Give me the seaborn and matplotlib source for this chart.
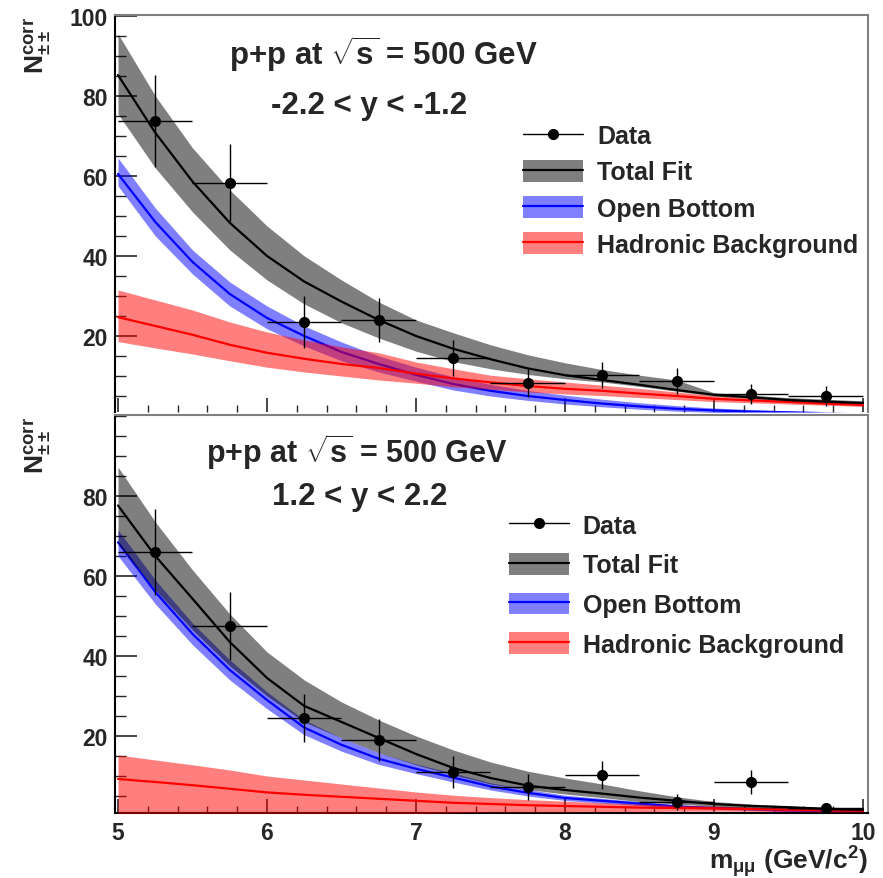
import matplotlib
matplotlib.use("Agg")
import matplotlib.pyplot as plt
import seaborn as sns
import numpy as np
from matplotlib.lines import Line2D
from matplotlib.patches import Patch
from matplotlib.ticker import MultipleLocator

# ---------------- data ----------------
xs = [5.0, 5.25, 5.5, 5.75, 6.0, 6.25, 6.5, 6.75, 7.0, 7.25, 7.5,
      7.75, 8.0, 8.25, 8.5, 8.75, 9.0, 9.25, 9.5, 9.75, 10.0]

# top panel (-2.2 < y < -1.2)
top_total = [85.2, 70.8, 58.6, 48.3, 40.0, 33.6, 28.6, 24.0, 20.0, 16.8, 14.2,
             11.9, 10.2, 9.0, 7.8, 6.5, 5.3, 4.7, 4.0, 3.6, 3.25]
top_total_hi = [95.5, 80.0, 67.0, 56.5, 47.5, 40.0, 34.0, 28.5, 24.0, 20.8, 17.8,
                15.3, 13.3, 11.6, 10.2, 9.0, 5.8, 5.2, 4.6, 4.2, 3.8]
top_total_lo = [75.5, 62.0, 51.0, 41.5, 34.0, 28.0, 23.3, 19.5, 16.2, 13.6, 11.8,
                10.4, 9.3, 8.5, 7.4, 6.2, 5.0, 4.4, 3.8, 3.4, 3.1]
top_blue = [60.5, 48.5, 38.5, 30.5, 24.5, 20.0, 16.0, 13.0, 10.3, 8.0, 6.3,
            5.0, 4.0, 3.1, 2.4, 1.8, 1.4, 1.1, 0.9, 0.7, 0.6]
top_blue_hi = [64.5, 52.0, 41.5, 33.5, 27.5, 22.5, 18.5, 15.0, 12.2, 9.8, 7.9,
               6.4, 5.2, 4.2, 3.3, 2.6, 2.0, 1.6, 1.3, 1.0, 0.8]
top_blue_lo = [57.5, 45.0, 35.5, 27.5, 21.8, 17.5, 13.8, 11.0, 8.7, 6.5, 5.0,
               3.9, 3.0, 2.3, 1.7, 1.2, 0.9, 0.7, 0.5, 0.4, 0.3]
top_red = [24.7, 22.5, 20.3, 17.8, 15.8, 14.3, 13.0, 12.0, 10.6, 9.4, 8.4,
           7.5, 6.8, 6.3, 5.6, 5.0, 4.3, 3.9, 3.5, 3.1, 2.75]
top_red_hi = [31.5, 29.0, 26.5, 23.5, 21.0, 19.0, 17.3, 15.8, 13.5, 11.8, 10.2,
              9.3, 8.5, 7.7, 6.9, 6.0, 5.1, 4.6, 4.1, 3.6, 3.2]
top_red_lo = [18.6, 17.0, 15.5, 13.8, 12.2, 11.0, 10.0, 9.0, 8.2, 7.3, 6.7,
              6.0, 5.5, 5.1, 4.6, 4.1, 3.6, 3.3, 3.0, 2.7, 2.4]

# bottom panel (1.2 < y < 2.2)
bot_total = [77.6, 65.0, 54.3, 43.5, 34.5, 27.5, 23.5, 19.5, 15.5, 12.0, 9.5,
             7.6, 6.5, 5.6, 4.6, 3.8, 3.0, 2.5, 2.2, 1.8, 1.6]
bot_total_hi = [87.2, 73.5, 61.5, 50.5, 41.0, 34.0, 28.5, 24.0, 20.0, 16.5, 13.5,
                11.2, 9.5, 8.0, 6.3, 4.8, 3.6, 3.0, 2.5, 2.1, 1.8]
bot_total_lo = [68.0, 56.5, 46.5, 37.5, 30.0, 23.5, 19.5, 15.8, 12.8, 10.3, 8.0,
                6.6, 5.5, 4.6, 3.6, 3.0, 2.4, 2.1, 1.8, 1.5, 1.3]
bot_blue = [68.4, 56.0, 45.5, 36.5, 29.0, 22.1, 17.8, 14.3, 11.8, 9.6, 7.4,
            5.8, 4.5, 3.8, 3.1, 2.4, 2.0, 1.7, 1.4, 1.2, 1.0]
bot_blue_hi = [71.5, 59.0, 48.2, 39.0, 31.0, 24.0, 19.5, 15.8, 13.0, 10.7, 8.3,
               6.6, 5.2, 4.4, 3.6, 2.8, 2.3, 2.0, 1.7, 1.4, 1.2]
bot_blue_lo = [65.0, 53.0, 42.8, 34.0, 26.8, 20.3, 16.2, 12.9, 10.6, 8.5, 6.5,
               5.0, 3.9, 3.2, 2.6, 2.0, 1.7, 1.4, 1.1, 1.0, 0.8]
bot_red = [9.25, 8.5, 7.7, 6.8, 5.9, 5.3, 4.8, 4.3, 3.8, 3.3, 3.0,
           2.7, 2.5, 2.3, 2.1, 2.0, 1.9, 1.75, 1.6, 1.45, 1.3]
bot_red_hi = [15.25, 14.0, 12.8, 11.5, 10.0, 9.0, 8.0, 7.0, 6.0, 5.2, 4.6,
              4.1, 3.7, 3.3, 3.0, 2.7, 2.5, 2.3, 2.1, 1.9, 1.8]
bot_red_lo = [0.3, 0.3, 0.3, 0.4, 0.4, 0.5, 0.5, 0.6, 0.6, 0.8, 1.0,
              1.0, 1.0, 1.1, 1.1, 1.2, 1.2, 1.2, 1.1, 1.0, 1.0]

# data points
mass = [5.25, 5.75, 6.25, 6.75, 7.25, 7.75, 8.25, 8.75, 9.25, 9.75]
mass_halfwidth = [0.25] * 10
top_y = [73.75, 58.25, 23.5, 24.0, 14.5, 8.25, 10.25, 8.75, 5.5, 5.0]
top_err = [11.5, 9.6, 6.5, 5.6, 4.5, 3.4, 3.2, 3.2, 2.6, 2.6]
bot_y = [66.0, 47.5, 24.5, 19.0, 11.0, 7.25, 10.25, 3.5, 8.5, 2.0]
bot_err = [10.7, 8.4, 6.0, 5.2, 4.1, 3.3, 3.4, 1.9, 3.0, 1.2]

title_main = "p+p at $\\sqrt{s}$ = 500 GeV"
top_range = "-2.2 < y < -1.2"
bot_range = "1.2 < y < 2.2"
legend_labels = ["Data", "Total Fit", "Open Bottom", "Hadronic Background"]

# ---------------- style ----------------
sns.set_theme(style="ticks")
plt.rcParams["font.family"] = ["Liberation Sans", "DejaVu Sans"]
plt.rcParams["font.weight"] = "bold"
plt.rcParams["mathtext.fontset"] = "custom"
plt.rcParams["mathtext.rm"] = "Liberation Sans:bold"
plt.rcParams["mathtext.bf"] = "Liberation Sans:bold"
plt.rcParams["mathtext.it"] = "Liberation Sans:bold:italic"
plt.rcParams["mathtext.sf"] = "Liberation Sans:bold"
plt.rcParams["mathtext.default"] = "rm"

W, H = 883, 879
fig = plt.figure(figsize=(W / 100, H / 100), dpi=100)
fig.patch.set_facecolor("white")
ax1 = fig.add_axes([115 / W, 1 - 413 / H, 753 / W, 397 / H])
ax2 = fig.add_axes([115 / W, 1 - 814 / H, 753 / W, 398 / H])

BLUE = "#0000ff"
RED = "#ff0000"
TICK_FS = 16.5


def draw_panel(ax, tot, tot_hi, tot_lo, blu, blu_hi, blu_lo, red, red_hi, red_lo, dy, derr):
    ax.set_facecolor("white")
    ax.fill_between(xs, blu_lo, blu_hi, color=BLUE, alpha=0.5, lw=0, zorder=1)
    sns.lineplot(x=xs, y=blu, ax=ax, color=BLUE, lw=1.6, legend=False, zorder=2)
    ax.fill_between(xs, red_lo, red_hi, color=RED, alpha=0.5, lw=0, zorder=3)
    sns.lineplot(x=xs, y=red, ax=ax, color=RED, lw=1.6, legend=False, zorder=4)
    ax.fill_between(xs, tot_lo, tot_hi, color="black", alpha=0.5, lw=0, zorder=5)
    sns.lineplot(x=xs, y=tot, ax=ax, color="black", lw=1.6, legend=False, zorder=6)
    ax.errorbar(mass, dy, xerr=mass_halfwidth, yerr=derr, fmt="o", color="black",
                ms=7, elinewidth=1, capsize=0, zorder=10)
    ax.set_xlim(4.98, 10.034)
    ax.xaxis.set_major_locator(MultipleLocator(1))
    ax.xaxis.set_minor_locator(MultipleLocator(0.2))
    ax.yaxis.set_minor_locator(MultipleLocator(5))
    ax.tick_params(axis="y", which="major", direction="in", length=16, width=1.2,
                   labelsize=TICK_FS, pad=5, left=True, right=False)
    ax.tick_params(axis="y", which="minor", direction="in", length=8, width=1.0,
                   left=True, right=False)
    ax.tick_params(axis="x", which="major", direction="in", length=10, width=1.2,
                   labelsize=TICK_FS, pad=6, bottom=True, top=False)
    ax.tick_params(axis="x", which="minor", direction="in", length=5, width=1.0,
                   bottom=True, top=False)
    for s in ["left", "bottom"]:
        ax.spines[s].set_color("black")
        ax.spines[s].set_linewidth(1.5)
    for s in ["top", "right"]:
        ax.spines[s].set_color("#808080")
        ax.spines[s].set_linewidth(1.5)
    ax.set_xlabel("")
    ax.set_ylabel("")
    ax.grid(False)


draw_panel(ax1, top_total, top_total_hi, top_total_lo, top_blue, top_blue_hi, top_blue_lo,
           top_red, top_red_hi, top_red_lo, top_y, top_err)
draw_panel(ax2, bot_total, bot_total_hi, bot_total_lo, bot_blue, bot_blue_hi, bot_blue_lo,
           bot_red, bot_red_hi, bot_red_lo, bot_y, bot_err)

ax1.set_ylim(1.0, 100.2)
ax1.set_yticks([20, 40, 60, 80, 100])
ax1.tick_params(axis="x", labelbottom=False)
ax1.spines["bottom"].set_visible(False)

ax2.set_ylim(0.75, 100.2)
ax2.set_yticks([20, 40, 60, 80])

# texts
TFS = 22.5
ax1.text(0.356, 0.904, title_main, transform=ax1.transAxes, ha="center", va="center",
         fontsize=TFS, fontweight="bold")
ax1.text(0.338, 0.773, top_range, transform=ax1.transAxes, ha="center", va="center",
         fontsize=TFS, fontweight="bold")
ax2.text(0.321, 0.9095, title_main, transform=ax2.transAxes, ha="center", va="center",
         fontsize=22, fontweight="bold")
ax2.text(0.325, 0.796, bot_range, transform=ax2.transAxes, ha="center", va="center",
         fontsize=TFS, fontweight="bold")

ylab = "N$^{corr}_{\\pm\\pm}$"
fig.text(38 / W, 1 - 17 / H, ylab, rotation=90, ha="center", va="top", fontsize=19,
         fontweight="bold")
fig.text(38 / W, 1 - 417 / H, ylab, rotation=90, ha="center", va="top", fontsize=19,
         fontweight="bold")
fig.text(868 / W, 1 - 862 / H, "m$_{\\mu\\mu}$ (GeV/c$^{2}$)", ha="right", va="center",
         fontsize=19, fontweight="bold")


def handles():
    return [
        Line2D([], [], color="black", marker="o", ms=7, lw=1),
        (Patch(facecolor=(0, 0, 0, 0.5), edgecolor="none"), Line2D([], [], color="black", lw=1.6)),
        (Patch(facecolor=(0, 0, 1, 0.5), edgecolor="none"), Line2D([], [], color=BLUE, lw=1.6)),
        (Patch(facecolor=(1, 0, 0, 0.5), edgecolor="none"), Line2D([], [], color=RED, lw=1.6)),
    ]


for ax, anchor, sp in [(ax1, (0.542, 0.726), 0.47), (ax2, (0.523, 0.753), 0.61)]:
    leg = ax.legend(handles(), legend_labels, loc="upper left", bbox_to_anchor=anchor,
                    frameon=False, fontsize=18, handlelength=2.4, handleheight=0.96,
                    handletextpad=0.56, labelspacing=sp, borderpad=0, borderaxespad=0)
    leg.set_zorder(20)

fig.savefig("out.png", dpi=100, facecolor="white")
